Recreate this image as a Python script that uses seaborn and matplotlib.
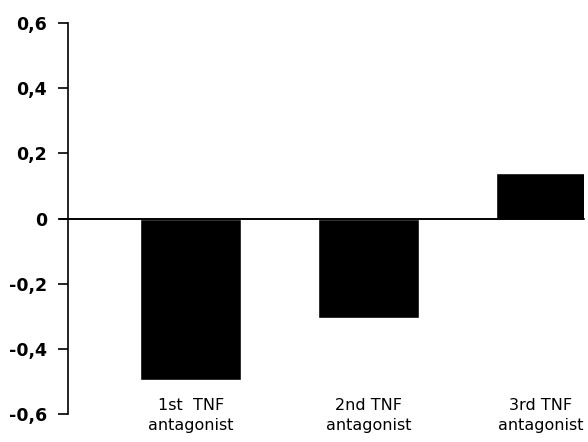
import numpy as np
import matplotlib
matplotlib.use("Agg")
import matplotlib.pyplot as plt
import seaborn as sns

categories = ["1st  TNF\nantagonist", "2nd TNF\nantagonist", "3rd TNF\nantagonist"]
values = [-0.495, -0.305, 0.14]
y_ticks = [-0.6, -0.4, -0.2, 0.0, 0.2, 0.4, 0.6]
y_tick_labels = ["-0,6", "-0,4", "-0,2", "0", "0,2", "0,4", "0,6"]

sns.set_theme(style="white")
plt.rcParams["font.family"] = ["DejaVu Sans"]
plt.rcParams["text.color"] = "black"
plt.rcParams["ytick.color"] = "black"

fig = plt.figure(figsize=(5.88, 4.42), dpi=100)
ax = fig.add_axes([68 / 588, 1 - 414 / 442, (584 - 68) / 588, (414 - 23) / 442])

x = np.arange(len(categories))
sns.barplot(x=x, y=values, color="black", width=0.57, saturation=1, ax=ax,
            native_scale=True)

ax.set_xlim(-0.69, 2.21)
ax.set_ylim(-0.6, 0.6)
ax.axhline(0, color="black", lw=1.4, xmin=-0.015, clip_on=False, zorder=3)

ax.set_yticks(y_ticks)
ax.set_yticklabels(y_tick_labels, fontweight="heavy", fontsize=12.5)
ax.tick_params(axis="y", direction="out", length=7, width=1.2, colors="black",
               left=True, pad=8)
ax.set_xticks([])
ax.set_xlabel("")
ax.set_ylabel("")

for side in ["top", "right", "bottom"]:
    ax.spines[side].set_visible(False)
ax.spines["left"].set_color("black")
ax.spines["left"].set_linewidth(1.2)

label_shift = [0, 0, -0.034]
for xi, lab, dx in zip(x, categories, label_shift):
    ax.text(xi + dx, -0.55, lab, ha="center", va="top", fontsize=11.5,
            color="black", linespacing=1.4, clip_on=False)

fig.savefig("out.png", dpi=100)
